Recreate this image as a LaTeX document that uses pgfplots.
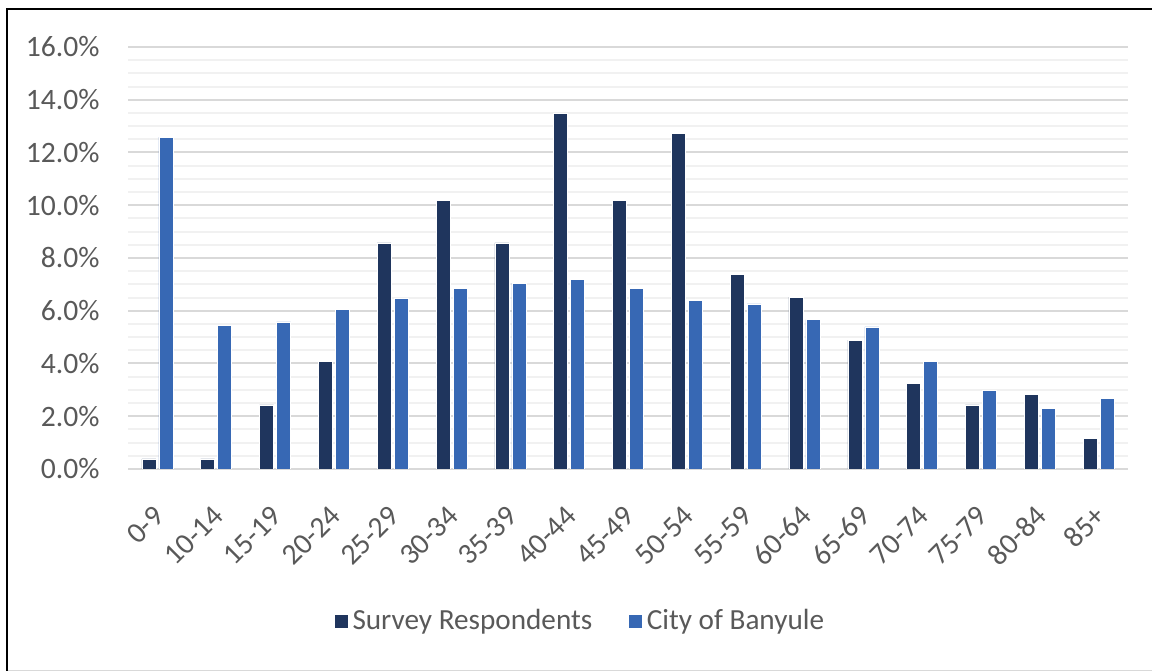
\documentclass[border=0pt]{standalone}
\usepackage{fontspec}
\setmainfont{Carlito}
\usepackage{pgfplots}
\pgfplotsset{compat=1.18}

\definecolor{surveyblue}{RGB}{31,53,93}
\definecolor{banyule}{RGB}{55,104,180}
\definecolor{labelgray}{RGB}{89,89,89}
\definecolor{gridmaj}{RGB}{217,217,217}
\definecolor{gridmin}{RGB}{241,241,241}

\begin{document}
\begin{tikzpicture}
  \useasboundingbox (0,0) rectangle (576bp,335.5bp);
  % outer frame (left and top lines, faint bottom)
  \draw[black, line width=1.2bp] (3.5bp,0) -- (3.5bp,331bp) -- (576bp,331bp);
  \draw[gridmaj, line width=0.6bp] (4bp,0.4bp) -- (576bp,0.4bp);

  \begin{axis}[
    at={(64bp,101bp)}, anchor=south west,
    scale only axis,
    width=500bp, height=211bp,
    ybar=1.5bp, bar width=7bp,
    xmin=-0.5, xmax=16.5,
    ymin=0, ymax=16,
    ytick={0,2,...,16},
    minor y tick num=3,
    ymajorgrids, yminorgrids,
    major grid style={gridmaj, line width=1bp},
    minor grid style={gridmin, line width=1bp},
    axis line style={draw=none},
    major tick length=0pt, minor tick length=0pt,
    xtick=data,
    xticklabels={0-9,10-14,15-19,20-24,25-29,30-34,35-39,40-44,45-49,50-54,55-59,60-64,65-69,70-74,75-79,80-84,85+},
    xticklabel style={yshift=-21bp, xshift=1bp, rotate=45, anchor=east, inner sep=0pt, font=\fontsize{14.8bp}{17bp}\selectfont, text=labelgray},
    /pgf/number format/assume math mode=true,
    yticklabel={\pgfmathprintnumber[fixed,fixed zerofill,precision=1]{\tick}\%},
    yticklabel style={anchor=east, inner sep=0pt, xshift=-14bp, font=\fontsize{14.8bp}{17bp}\selectfont, text=labelgray},
    legend columns=2,
    legend style={
      at={(0.453,-0.36)}, anchor=center, draw=none, fill=none,
      font=\fontsize{14.6bp}{17bp}\selectfont, text=labelgray,
      /tikz/every even column/.append style={column sep=16bp},
      inner sep=0pt,
    },
    legend image code/.code={\fill[#1] (0bp,-3.5bp) rectangle (7bp,3.5bp);},
  ]
    \addplot[fill=surveyblue, draw=white, line width=0.3bp] coordinates {
      (0,0.38) (1,0.38) (2,2.43) (3,4.07) (4,8.57) (5,10.19) (6,8.57)
      (7,13.48) (8,10.19) (9,12.72) (10,7.39) (11,6.52) (12,4.89)
      (13,3.26) (14,2.43) (15,2.84) (16,1.17)
    };
    \addlegendentry{Survey Respondents}
    \addplot[fill=banyule, draw=white, line width=0.3bp] coordinates {
      (0,12.58) (1,5.45) (2,5.58) (3,6.04) (4,6.48) (5,6.86) (6,7.05)
      (7,7.20) (8,6.86) (9,6.40) (10,6.26) (11,5.66) (12,5.39)
      (13,4.09) (14,2.99) (15,2.31) (16,2.69)
    };
    \addlegendentry{City of Banyule}
  \end{axis}
\end{tikzpicture}
\end{document}
